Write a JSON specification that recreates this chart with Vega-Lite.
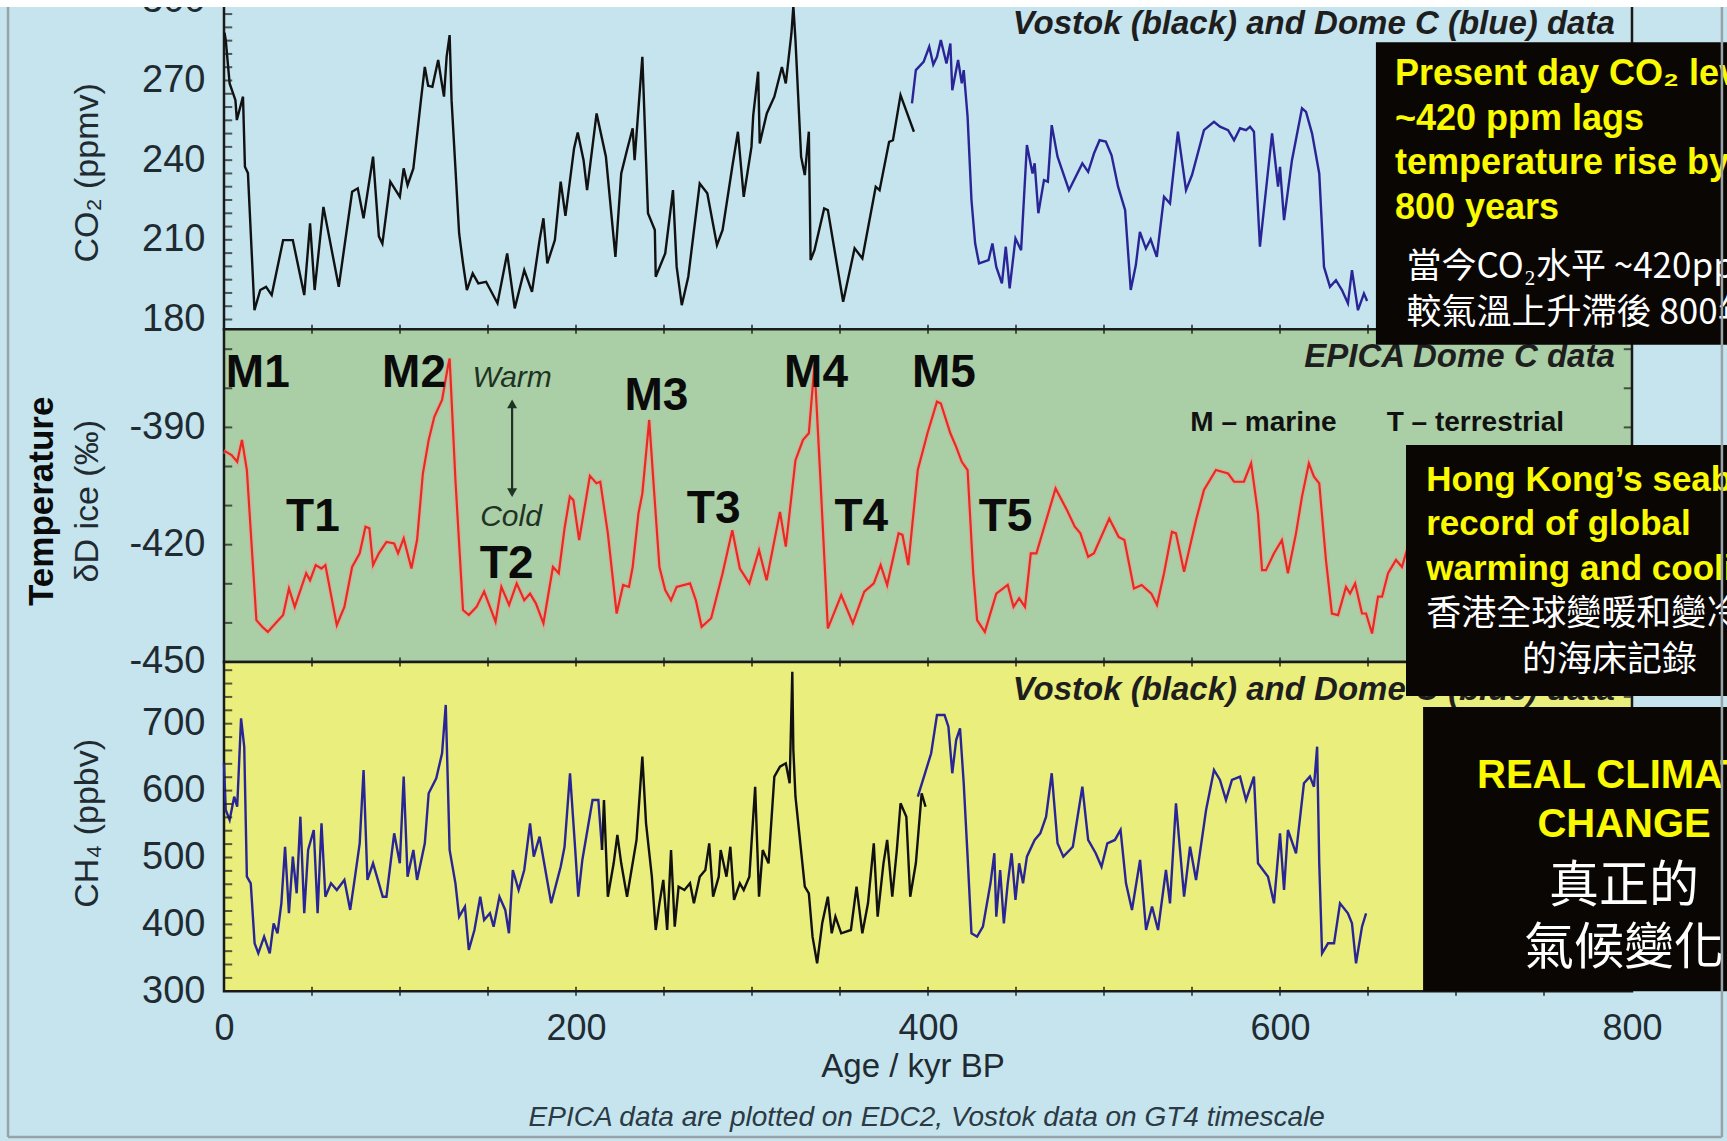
{
"$schema":"https://vega.github.io/schema/vega-lite/v6.json",
"width":1727,"height":1141,"autosize":{"type":"none"},"padding":0,
"background":"#c5e4ee",
"config":{"view":{"stroke":null},"font":"Liberation Sans"},
"resolve":{"scale":{"y":"independent"},"axis":{"x":"independent","y":"independent"}},
"datasets":{
"co2":[
{"core":"Vostok","age":0.3,"co2":288},{"core":"Vostok","age":1.0,"co2":285.2},{"core":"Vostok","age":3.2,"co2":268.9},{"core":"Vostok","age":6.5,"co2":262.6},{"core":"Vostok","age":7.3,"co2":255.1},{"core":"Vostok","age":10.8,"co2":263.9},{"core":"Vostok","age":11.9,"co2":237.5},{"core":"Vostok","age":13.6,"co2":235.1},{"core":"Vostok","age":17.3,"co2":183.5},{"core":"Vostok","age":20.6,"co2":191.1},{"core":"Vostok","age":23.9,"co2":192.3},{"core":"Vostok","age":27.1,"co2":189.2},{"core":"Vostok","age":33.6,"co2":209.9},{"core":"Vostok","age":39.1,"co2":209.9},{"core":"Vostok","age":45.6,"co2":189.2},{"core":"Vostok","age":48.9,"co2":216.2},{"core":"Vostok","age":51.5,"co2":191.1},{"core":"Vostok","age":56.5,"co2":222.4},{"core":"Vostok","age":65.2,"co2":192.3},{"core":"Vostok","age":72.8,"co2":228.1},{"core":"Vostok","age":76.0,"co2":229.4},{"core":"Vostok","age":79.3,"co2":218.1},{"core":"Vostok","age":84.7,"co2":241.3},{"core":"Vostok","age":88.0,"co2":211.3},{"core":"Vostok","age":90.0,"co2":208.6},{"core":"Vostok","age":94.5,"co2":231.9},{"core":"Vostok","age":99.9,"co2":226.2},{"core":"Vostok","age":102.1,"co2":236.9},{"core":"Vostok","age":104.3,"co2":230.6},{"core":"Vostok","age":107.6,"co2":236.9},{"core":"Vostok","age":111.9,"co2":262.6},{"core":"Vostok","age":114.1,"co2":275.1},{"core":"Vostok","age":116.0,"co2":268},{"core":"Vostok","age":118.4,"co2":267.6},{"core":"Vostok","age":121.7,"co2":277.7},{"core":"Vostok","age":123.5,"co2":270},{"core":"Vostok","age":125.0,"co2":263.9},{"core":"Vostok","age":126.5,"co2":279},{"core":"Vostok","age":128.2,"co2":287.1},{"core":"Vostok","age":129.3,"co2":262.6},{"core":"Vostok","age":133.6,"co2":212.4},{"core":"Vostok","age":135.8,"co2":201.1},{"core":"Vostok","age":138.0,"co2":191.1},{"core":"Vostok","age":141.3,"co2":197.4},{"core":"Vostok","age":144.5,"co2":193.6},{"core":"Vostok","age":148.9,"co2":194.2},{"core":"Vostok","age":155.4,"co2":186.1},{"core":"Vostok","age":160.9,"co2":204.9},{"core":"Vostok","age":165.2,"co2":184.2},{"core":"Vostok","age":170.6,"co2":198.6},{"core":"Vostok","age":175.0,"co2":190.4},{"core":"Vostok","age":179.3,"co2":209.9},{"core":"Vostok","age":181.5,"co2":218.1},{"core":"Vostok","age":183.7,"co2":201.1},{"core":"Vostok","age":188.0,"co2":209.9},{"core":"Vostok","age":191.3,"co2":231.9},{"core":"Vostok","age":194.0,"co2":219},{"core":"Vostok","age":198.9,"co2":244.4},{"core":"Vostok","age":201.0,"co2":250.4},{"core":"Vostok","age":204.3,"co2":240},{"core":"Vostok","age":206.3,"co2":228.7},{"core":"Vostok","age":211.7,"co2":257.6},{"core":"Vostok","age":217.0,"co2":241.3},{"core":"Vostok","age":222.4,"co2":203.6},{"core":"Vostok","age":225.7,"co2":235},{"core":"Vostok","age":229.0,"co2":243.8},{"core":"Vostok","age":232.2,"co2":252},{"core":"Vostok","age":233.3,"co2":240},{"core":"Vostok","age":237.7,"co2":278.9},{"core":"Vostok","age":240.9,"co2":220},{"core":"Vostok","age":244.8,"co2":213.7},{"core":"Vostok","age":245.3,"co2":196.1},{"core":"Vostok","age":250.7,"co2":204.9},{"core":"Vostok","age":255.1,"co2":228.7},{"core":"Vostok","age":257.2,"co2":199.8},{"core":"Vostok","age":260.1,"co2":185.4},{"core":"Vostok","age":263.8,"co2":196.1},{"core":"Vostok","age":270.3,"co2":231.2},{"core":"Vostok","age":274.6,"co2":227.5},{"core":"Vostok","age":280.1,"co2":208},{"core":"Vostok","age":283.3,"co2":213.7},{"core":"Vostok","age":288.8,"co2":237.5},{"core":"Vostok","age":292.0,"co2":250.7},{"core":"Vostok","age":295.3,"co2":226.2},{"core":"Vostok","age":299.7,"co2":245},{"core":"Vostok","age":300.7,"co2":256.9},{"core":"Vostok","age":303.5,"co2":273.3},{"core":"Vostok","age":304.4,"co2":246.3},{"core":"Vostok","age":308.4,"co2":257.6},{"core":"Vostok","age":312.7,"co2":263.9},{"core":"Vostok","age":317.0,"co2":275.1},{"core":"Vostok","age":319.2,"co2":268.9},{"core":"Vostok","age":322.4,"co2":287.7},{"core":"Vostok","age":323.5,"co2":298},{"core":"Vostok","age":324.7,"co2":285.2},{"core":"Vostok","age":327.9,"co2":241.3},{"core":"Vostok","age":330.0,"co2":234.4},{"core":"Vostok","age":332.3,"co2":250.7},{"core":"Vostok","age":333.3,"co2":202.4},{"core":"Vostok","age":335.5,"co2":206.1},{"core":"Vostok","age":341.0,"co2":221.8},{"core":"Vostok","age":343.1,"co2":221.2},{"core":"Vostok","age":351.8,"co2":186.7},{"core":"Vostok","age":358.3,"co2":206.8},{"core":"Vostok","age":362.7,"co2":203},{"core":"Vostok","age":370.3,"co2":230},{"core":"Vostok","age":372.5,"co2":228.7},{"core":"Vostok","age":377.9,"co2":246.9},{"core":"Vostok","age":380.1,"co2":247.5},{"core":"Vostok","age":384.4,"co2":264.5},{"core":"Vostok","age":392.0,"co2":250.7},
{"core":"Dome C","age":390.9,"co2":261.4},{"core":"Dome C","age":393.1,"co2":273.9},{"core":"Dome C","age":397.5,"co2":277.0},{"core":"Dome C","age":400.7,"co2":282.7},{"core":"Dome C","age":403.0,"co2":276},{"core":"Dome C","age":405.1,"co2":278.9},{"core":"Dome C","age":407.3,"co2":285.2},{"core":"Dome C","age":410.5,"co2":276.4},{"core":"Dome C","age":412.7,"co2":283.9},{"core":"Dome C","age":413.8,"co2":266.3},{"core":"Dome C","age":417.1,"co2":277.7},{"core":"Dome C","age":419.2,"co2":268.9},{"core":"Dome C","age":420.3,"co2":273.9},{"core":"Dome C","age":422.5,"co2":256.3},{"core":"Dome C","age":424.7,"co2":225},{"core":"Dome C","age":426.8,"co2":208.6},{"core":"Dome C","age":429.0,"co2":201.1},{"core":"Dome C","age":434.4,"co2":202.4},{"core":"Dome C","age":436.6,"co2":208.6},{"core":"Dome C","age":438.8,"co2":199.8},{"core":"Dome C","age":442.0,"co2":193.6},{"core":"Dome C","age":444.2,"co2":207.4},{"core":"Dome C","age":446.4,"co2":191.7},{"core":"Dome C","age":449.7,"co2":210.5},{"core":"Dome C","age":452.9,"co2":206.1},{"core":"Dome C","age":456.2,"co2":245.7},{"core":"Dome C","age":459.4,"co2":235},{"core":"Dome C","age":460.6,"co2":238.8},{"core":"Dome C","age":462.7,"co2":220},{"core":"Dome C","age":465.9,"co2":232.5},{"core":"Dome C","age":468.1,"co2":231.9},{"core":"Dome C","age":470.3,"co2":253.2},{"core":"Dome C","age":473.6,"co2":241.3},{"core":"Dome C","age":480.1,"co2":228.7},{"core":"Dome C","age":487.7,"co2":238.8},{"core":"Dome C","age":491.0,"co2":235.6},{"core":"Dome C","age":494.3,"co2":242.5},{"core":"Dome C","age":497.5,"co2":247.5},{"core":"Dome C","age":501.0,"co2":247.0},{"core":"Dome C","age":504.3,"co2":241.8},{"core":"Dome C","age":508.0,"co2":230},{"core":"Dome C","age":512.0,"co2":221.2},{"core":"Dome C","age":515.2,"co2":191.1},{"core":"Dome C","age":518.1,"co2":200.5},{"core":"Dome C","age":520.4,"co2":213},{"core":"Dome C","age":523.8,"co2":206.7},{"core":"Dome C","age":526.5,"co2":210.2},{"core":"Dome C","age":530.0,"co2":203.6},{"core":"Dome C","age":534.1,"co2":226.2},{"core":"Dome C","age":537.5,"co2":223.7},{"core":"Dome C","age":542.0,"co2":250.7},{"core":"Dome C","age":546.6,"co2":228.7},{"core":"Dome C","age":550.0,"co2":234.4},{"core":"Dome C","age":556.8,"co2":251.3},{"core":"Dome C","age":562.5,"co2":254.4},{"core":"Dome C","age":565.9,"co2":252.6},{"core":"Dome C","age":570.5,"co2":251.3},{"core":"Dome C","age":573.9,"co2":247.5},{"core":"Dome C","age":577.3,"co2":252},{"core":"Dome C","age":580.7,"co2":251.3},{"core":"Dome C","age":583.0,"co2":252.6},{"core":"Dome C","age":585.2,"co2":250.7},{"core":"Dome C","age":588.6,"co2":207.4},{"core":"Dome C","age":595.5,"co2":250.1},{"core":"Dome C","age":598.9,"co2":230},{"core":"Dome C","age":600.0,"co2":237.5},{"core":"Dome C","age":602.3,"co2":217.4},{"core":"Dome C","age":606.8,"co2":240},{"core":"Dome C","age":612.5,"co2":259.5},{"core":"Dome C","age":614.8,"co2":258.2},{"core":"Dome C","age":618.2,"co2":250.1},{"core":"Dome C","age":622.3,"co2":235},{"core":"Dome C","age":625.0,"co2":199.8},{"core":"Dome C","age":628.4,"co2":192.3},{"core":"Dome C","age":631.8,"co2":194.8},{"core":"Dome C","age":635.2,"co2":191.1},{"core":"Dome C","age":638.6,"co2":186.1},{"core":"Dome C","age":640.9,"co2":198.6},{"core":"Dome C","age":644.3,"co2":183.5},{"core":"Dome C","age":647.7,"co2":189.8},{"core":"Dome C","age":649.5,"co2":187}
],
"dd":[
{"age":0.0,"dD":-396},{"age":1.0,"dD":-396.2},{"age":4.3,"dD":-397.1},{"age":7.5,"dD":-398.8},{"age":10.2,"dD":-393.2},{"age":13.0,"dD":-400.9},{"age":18.4,"dD":-439.3},{"age":21.7,"dD":-441},{"age":24.9,"dD":-442.3},{"age":29.3,"dD":-440.1},{"age":33.6,"dD":-438},{"age":36.9,"dD":-431.2},{"age":40.2,"dD":-435.9},{"age":46.7,"dD":-427.3},{"age":48.9,"dD":-429.1},{"age":52.1,"dD":-425.2},{"age":55.4,"dD":-426.1},{"age":57.6,"dD":-425.2},{"age":64.1,"dD":-440.6},{"age":68.4,"dD":-435.9},{"age":72.8,"dD":-425.7},{"age":77.1,"dD":-422.2},{"age":80.4,"dD":-415.4},{"age":82.6,"dD":-415.8},{"age":84.7,"dD":-425.2},{"age":88.0,"dD":-422.2},{"age":92.3,"dD":-419.3},{"age":96.7,"dD":-419.7},{"age":98.9,"dD":-422.2},{"age":102.1,"dD":-418.4},{"age":106.5,"dD":-426.1},{"age":109.7,"dD":-418.8},{"age":113.0,"dD":-401.8},{"age":116.3,"dD":-393.2},{"age":119.5,"dD":-387.3},{"age":123.9,"dD":-383},{"age":127.2,"dD":-374.5},{"age":128.2,"dD":-372.4},{"age":131.5,"dD":-403.5},{"age":135.8,"dD":-436.7},{"age":139.1,"dD":-438},{"age":143.5,"dD":-435.9},{"age":147.8,"dD":-432},{"age":151.1,"dD":-435.9},{"age":154.3,"dD":-439.7},{"age":157.6,"dD":-430.8},{"age":162.0,"dD":-435.4},{"age":166.3,"dD":-429.9},{"age":170.6,"dD":-434.2},{"age":173.9,"dD":-432.5},{"age":177.2,"dD":-435},{"age":181.5,"dD":-440.1},{"age":186.9,"dD":-425.7},{"age":190.2,"dD":-427.3},{"age":193.5,"dD":-415.8},{"age":196.5,"dD":-407.7},{"age":198.5,"dD":-408.6},{"age":201.8,"dD":-418.8},{"age":207.9,"dD":-402.4},{"age":211.6,"dD":-404.3},{"age":213.8,"dD":-403.9},{"age":218.1,"dD":-417.1},{"age":223.1,"dD":-437.6},{"age":226.8,"dD":-430.3},{"age":230.1,"dD":-430.8},{"age":232.2,"dD":-425.7},{"age":235.5,"dD":-412},{"age":237.7,"dD":-406.9},{"age":241.6,"dD":-388.1},{"age":244.2,"dD":-405.2},{"age":247.4,"dD":-425.7},{"age":250.7,"dD":-431.6},{"age":254.0,"dD":-434.2},{"age":257.2,"dD":-430.8},{"age":264.8,"dD":-429.9},{"age":268.1,"dD":-434.2},{"age":271.4,"dD":-441},{"age":276.8,"dD":-438.8},{"age":283.3,"dD":-427.3},{"age":288.8,"dD":-416.3},{"age":293.1,"dD":-426.1},{"age":298.5,"dD":-429.9},{"age":304.0,"dD":-421.4},{"age":308.3,"dD":-429.1},{"age":315.9,"dD":-411.6},{"age":319.2,"dD":-420.5},{"age":324.7,"dD":-398.4},{"age":329.0,"dD":-393.2},{"age":332.3,"dD":-391.5},{"age":335.5,"dD":-374},{"age":338.8,"dD":-402.6},{"age":343.1,"dD":-441.4},{"age":350.7,"dD":-432.9},{"age":357.3,"dD":-440.1},{"age":363.8,"dD":-432},{"age":369.2,"dD":-429.9},{"age":373.1,"dD":-425.2},{"age":376.8,"dD":-430.3},{"age":383.3,"dD":-417.1},{"age":385.5,"dD":-417.5},{"age":388.8,"dD":-425.2},{"age":394.2,"dD":-400.9},{"age":399.7,"dD":-391.5},{"age":405.1,"dD":-383.4},{"age":407.3,"dD":-383.9},{"age":412.7,"dD":-391.5},{"age":416.0,"dD":-395},{"age":419.2,"dD":-398.8},{"age":422.5,"dD":-400.9},{"age":425.7,"dD":-427.3},{"age":427.9,"dD":-439.3},{"age":432.3,"dD":-442.3},{"age":438.8,"dD":-432.5},{"age":445.3,"dD":-430.3},{"age":448.6,"dD":-435.9},{"age":451.8,"dD":-433.7},{"age":455.1,"dD":-435.9},{"age":458.4,"dD":-422.2},{"age":461.6,"dD":-422.2},{"age":472.5,"dD":-405.6},{"age":479.0,"dD":-411.2},{"age":483.4,"dD":-415.4},{"age":486.6,"dD":-417.1},{"age":491.0,"dD":-423.1},{"age":494.3,"dD":-422.2},{"age":503.0,"dD":-413.3},{"age":508.3,"dD":-418},{"age":511.6,"dD":-418.8},{"age":517.0,"dD":-431.2},{"age":521.4,"dD":-430.3},{"age":526.9,"dD":-432.5},{"age":530.1,"dD":-435.4},{"age":534.1,"dD":-427.3},{"age":538.6,"dD":-416.7},{"age":540.9,"dD":-417.1},{"age":545.5,"dD":-426.9},{"age":552.3,"dD":-413.7},{"age":556.8,"dD":-406},{"age":563.6,"dD":-400.9},{"age":570.5,"dD":-401.8},{"age":573.9,"dD":-403.9},{"age":579.5,"dD":-403.9},{"age":583.6,"dD":-399.2},{"age":587.5,"dD":-412},{"age":589.8,"dD":-426.5},{"age":592.0,"dD":-426.5},{"age":596.6,"dD":-422.2},{"age":601.1,"dD":-418.8},{"age":604.5,"dD":-427.3},{"age":609.1,"dD":-417.1},{"age":612.5,"dD":-407.7},{"age":616.4,"dD":-399.2},{"age":619.3,"dD":-402.6},{"age":622.3,"dD":-404.3},{"age":626.1,"dD":-423.9},{"age":629.5,"dD":-437.6},{"age":633.0,"dD":-438},{"age":637.5,"dD":-430.8},{"age":639.8,"dD":-432.5},{"age":642.7,"dD":-429.9},{"age":646.6,"dD":-437.6},{"age":648.9,"dD":-437.6},{"age":652.3,"dD":-442.7},{"age":655.7,"dD":-433.3},{"age":658.0,"dD":-433.3},{"age":661.4,"dD":-427.3},{"age":665.9,"dD":-423.9},{"age":669.3,"dD":-425.7},{"age":672.7,"dD":-420.5},{"age":678.0,"dD":-428}
],
"ch4":[
{"core":"Dome C","seg":"a","age":0.0,"ch4":640.8},{"core":"Dome C","seg":"a","age":1.0,"ch4":571},{"core":"Dome C","seg":"a","age":3.2,"ch4":556.1},{"core":"Dome C","seg":"a","age":5.8,"ch4":590.9},{"core":"Dome C","seg":"a","age":7.5,"ch4":575.9},{"core":"Dome C","seg":"a","age":9.7,"ch4":708},{"core":"Dome C","seg":"a","age":11.5,"ch4":665.6},{"core":"Dome C","seg":"a","age":13.0,"ch4":471.3},{"core":"Dome C","seg":"a","age":15.2,"ch4":461.4},{"core":"Dome C","seg":"a","age":17.4,"ch4":371.7},{"core":"Dome C","seg":"a","age":19.5,"ch4":356.8},{"core":"Dome C","seg":"a","age":22.8,"ch4":381.6},{"core":"Dome C","seg":"a","age":26.0,"ch4":356.8},{"core":"Dome C","seg":"a","age":28.2,"ch4":401.6},{"core":"Dome C","seg":"a","age":30.4,"ch4":386.7},{"core":"Dome C","seg":"a","age":32.6,"ch4":431.5},{"core":"Dome C","seg":"a","age":34.7,"ch4":516.1},{"core":"Dome C","seg":"a","age":36.9,"ch4":416.6},{"core":"Dome C","seg":"a","age":39.1,"ch4":501.2},{"core":"Dome C","seg":"a","age":41.3,"ch4":446.5},{"core":"Dome C","seg":"a","age":43.4,"ch4":561},{"core":"Dome C","seg":"a","age":45.6,"ch4":416.6},{"core":"Dome C","seg":"a","age":47.8,"ch4":511.2},{"core":"Dome C","seg":"a","age":51.0,"ch4":541.1},{"core":"Dome C","seg":"a","age":53.2,"ch4":416.6},{"core":"Dome C","seg":"a","age":55.4,"ch4":551.1},{"core":"Dome C","seg":"a","age":57.6,"ch4":441.4},{"core":"Dome C","seg":"a","age":60.8,"ch4":461.4},{"core":"Dome C","seg":"a","age":64.1,"ch4":451.4},{"core":"Dome C","seg":"a","age":68.4,"ch4":466.4},{"core":"Dome C","seg":"a","age":71.7,"ch4":421.6},{"core":"Dome C","seg":"a","age":73.9,"ch4":461.4},{"core":"Dome C","seg":"a","age":77.1,"ch4":521.2},{"core":"Dome C","seg":"a","age":79.3,"ch4":630.8},{"core":"Dome C","seg":"a","age":81.5,"ch4":466.4},{"core":"Dome C","seg":"a","age":84.7,"ch4":491.3},{"core":"Dome C","seg":"a","age":90.2,"ch4":441.4},{"core":"Dome C","seg":"a","age":92.3,"ch4":441.4},{"core":"Dome C","seg":"a","age":96.7,"ch4":536.2},{"core":"Dome C","seg":"a","age":99.9,"ch4":491.3},{"core":"Dome C","seg":"a","age":102.1,"ch4":620.9},{"core":"Dome C","seg":"a","age":104.3,"ch4":471.3},{"core":"Dome C","seg":"a","age":107.6,"ch4":511.2},{"core":"Dome C","seg":"a","age":109.7,"ch4":466.4},{"core":"Dome C","seg":"a","age":114.1,"ch4":521.2},{"core":"Dome C","seg":"a","age":116.3,"ch4":596},{"core":"Dome C","seg":"a","age":120.6,"ch4":618.4},{"core":"Dome C","seg":"a","age":123.9,"ch4":655.8},{"core":"Dome C","seg":"a","age":126.0,"ch4":728},{"core":"Dome C","seg":"a","age":128.2,"ch4":511.2},{"core":"Dome C","seg":"a","age":131.5,"ch4":461.4},{"core":"Dome C","seg":"a","age":133.6,"ch4":411.5},{"core":"Dome C","seg":"a","age":136.9,"ch4":426.5},{"core":"Dome C","seg":"a","age":139.1,"ch4":361.7},{"core":"Dome C","seg":"a","age":142.3,"ch4":391.6},{"core":"Dome C","seg":"a","age":145.6,"ch4":441.4},{"core":"Dome C","seg":"a","age":147.8,"ch4":406.6},{"core":"Dome C","seg":"a","age":151.1,"ch4":416.6},{"core":"Dome C","seg":"a","age":153.2,"ch4":396.6},{"core":"Dome C","seg":"a","age":156.5,"ch4":441.4},{"core":"Dome C","seg":"a","age":159.8,"ch4":421.6},{"core":"Dome C","seg":"a","age":161.9,"ch4":386.7},{"core":"Dome C","seg":"a","age":164.1,"ch4":481.3},{"core":"Dome C","seg":"a","age":167.4,"ch4":451.4},{"core":"Dome C","seg":"a","age":170.6,"ch4":481.3},{"core":"Dome C","seg":"a","age":173.9,"ch4":551.1},{"core":"Dome C","seg":"a","age":176.0,"ch4":501.2},{"core":"Dome C","seg":"a","age":179.3,"ch4":531.1},{"core":"Dome C","seg":"a","age":185.9,"ch4":431.5},{"core":"Dome C","seg":"a","age":191.3,"ch4":486.2},{"core":"Dome C","seg":"a","age":193.5,"ch4":516.1},{"core":"Dome C","seg":"a","age":196.6,"ch4":625.9},{"core":"Dome C","seg":"a","age":199.2,"ch4":526},{"core":"Dome C","seg":"a","age":201.3,"ch4":441.4},{"core":"Dome C","seg":"a","age":203.6,"ch4":496.3},{"core":"Dome C","seg":"a","age":209.4,"ch4":586},{"core":"Dome C","seg":"a","age":212.7,"ch4":586},{"core":"Dome C","seg":"a","age":214.8,"ch4":511.2},
{"core":"Vostok","seg":"b","age":214.8,"ch4":511.2},{"core":"Vostok","seg":"b","age":215.9,"ch4":586},{"core":"Vostok","seg":"b","age":218.1,"ch4":441.4},{"core":"Vostok","seg":"b","age":221.4,"ch4":491.3},{"core":"Vostok","seg":"b","age":223.5,"ch4":533.6},{"core":"Vostok","seg":"b","age":225.7,"ch4":491.3},{"core":"Vostok","seg":"b","age":229.0,"ch4":441.4},{"core":"Vostok","seg":"b","age":234.4,"ch4":526.2},{"core":"Vostok","seg":"b","age":237.7,"ch4":650.8},{"core":"Vostok","seg":"b","age":239.8,"ch4":551.1},{"core":"Vostok","seg":"b","age":243.1,"ch4":471.3},{"core":"Vostok","seg":"b","age":245.3,"ch4":391.6},{"core":"Vostok","seg":"b","age":247.4,"ch4":431.5},{"core":"Vostok","seg":"b","age":249.6,"ch4":466.4},{"core":"Vostok","seg":"b","age":251.8,"ch4":391.6},{"core":"Vostok","seg":"b","age":254.0,"ch4":511.2},{"core":"Vostok","seg":"b","age":256.1,"ch4":396.6},{"core":"Vostok","seg":"b","age":258.3,"ch4":456.4},{"core":"Vostok","seg":"b","age":261.6,"ch4":451.4},{"core":"Vostok","seg":"b","age":264.8,"ch4":461.4},{"core":"Vostok","seg":"b","age":267.0,"ch4":431.5},{"core":"Vostok","seg":"b","age":270.3,"ch4":471.3},{"core":"Vostok","seg":"b","age":273.5,"ch4":481.3},{"core":"Vostok","seg":"b","age":275.7,"ch4":521.2},{"core":"Vostok","seg":"b","age":277.9,"ch4":441.4},{"core":"Vostok","seg":"b","age":281.1,"ch4":471.3},{"core":"Vostok","seg":"b","age":282.2,"ch4":511.2},{"core":"Vostok","seg":"b","age":285.5,"ch4":471.3},{"core":"Vostok","seg":"b","age":287.7,"ch4":516.1},{"core":"Vostok","seg":"b","age":289.8,"ch4":436.5},{"core":"Vostok","seg":"b","age":293.1,"ch4":461.4},{"core":"Vostok","seg":"b","age":295.3,"ch4":451.4},{"core":"Vostok","seg":"b","age":298.5,"ch4":471.3},{"core":"Vostok","seg":"b","age":301.8,"ch4":605.8},{"core":"Vostok","seg":"b","age":304.0,"ch4":441.4},{"core":"Vostok","seg":"b","age":306.1,"ch4":511.2},{"core":"Vostok","seg":"b","age":309.4,"ch4":491.3},{"core":"Vostok","seg":"b","age":312.7,"ch4":620.9},{"core":"Vostok","seg":"b","age":315.9,"ch4":635.8},{"core":"Vostok","seg":"b","age":319.2,"ch4":640.8},{"core":"Vostok","seg":"b","age":321.4,"ch4":610.9},{"core":"Vostok","seg":"b","age":322.9,"ch4":777.7},{"core":"Vostok","seg":"b","age":323.5,"ch4":660.7},{"core":"Vostok","seg":"b","age":324.7,"ch4":590.9},{"core":"Vostok","seg":"b","age":330.0,"ch4":456.4},{"core":"Vostok","seg":"b","age":332.3,"ch4":446.5},{"core":"Vostok","seg":"b","age":334.4,"ch4":381.6},{"core":"Vostok","seg":"b","age":337.0,"ch4":341.9},{"core":"Vostok","seg":"b","age":339.9,"ch4":401.6},{"core":"Vostok","seg":"b","age":343.1,"ch4":441.4},{"core":"Vostok","seg":"b","age":345.3,"ch4":386.7},{"core":"Vostok","seg":"b","age":347.4,"ch4":411.5},{"core":"Vostok","seg":"b","age":350.7,"ch4":386.7},{"core":"Vostok","seg":"b","age":356.2,"ch4":391.6},{"core":"Vostok","seg":"b","age":359.4,"ch4":456.4},{"core":"Vostok","seg":"b","age":362.7,"ch4":386.7},{"core":"Vostok","seg":"b","age":365.9,"ch4":431.5},{"core":"Vostok","seg":"b","age":369.2,"ch4":521.2},{"core":"Vostok","seg":"b","age":371.4,"ch4":411.5},{"core":"Vostok","seg":"b","age":374.7,"ch4":491.3},{"core":"Vostok","seg":"b","age":376.8,"ch4":526.2},{"core":"Vostok","seg":"b","age":379.7,"ch4":441.4},{"core":"Vostok","seg":"b","age":382.3,"ch4":511.2},{"core":"Vostok","seg":"b","age":384.4,"ch4":581},{"core":"Vostok","seg":"b","age":387.7,"ch4":561},{"core":"Vostok","seg":"b","age":389.9,"ch4":441.4},{"core":"Vostok","seg":"b","age":393.1,"ch4":491.3},{"core":"Vostok","seg":"b","age":396.4,"ch4":596},{"core":"Vostok","seg":"b","age":398.6,"ch4":575.9},
{"core":"Dome C","seg":"c","age":394.2,"ch4":590.9},{"core":"Dome C","seg":"c","age":398.6,"ch4":628.3},{"core":"Dome C","seg":"c","age":401.8,"ch4":655.8},{"core":"Dome C","seg":"c","age":405.1,"ch4":713},{"core":"Dome C","seg":"c","age":409.4,"ch4":713},{"core":"Dome C","seg":"c","age":411.6,"ch4":695.5},{"core":"Dome C","seg":"c","age":413.8,"ch4":625.9},{"core":"Dome C","seg":"c","age":416.0,"ch4":675.6},{"core":"Dome C","seg":"c","age":418.2,"ch4":693.1},{"core":"Dome C","seg":"c","age":420.3,"ch4":610.9},{"core":"Dome C","seg":"c","age":422.5,"ch4":501.2},{"core":"Dome C","seg":"c","age":424.7,"ch4":386.7},{"core":"Dome C","seg":"c","age":427.9,"ch4":381.6},{"core":"Dome C","seg":"c","age":431.2,"ch4":396.6},{"core":"Dome C","seg":"c","age":435.5,"ch4":461.4},{"core":"Dome C","seg":"c","age":437.7,"ch4":506.3},{"core":"Dome C","seg":"c","age":438.8,"ch4":411.5},{"core":"Dome C","seg":"c","age":441.0,"ch4":481.3},{"core":"Dome C","seg":"c","age":443.1,"ch4":401.6},{"core":"Dome C","seg":"c","age":445.3,"ch4":461.4},{"core":"Dome C","seg":"c","age":447.5,"ch4":506.3},{"core":"Dome C","seg":"c","age":449.7,"ch4":436.5},{"core":"Dome C","seg":"c","age":451.8,"ch4":491.3},{"core":"Dome C","seg":"c","age":454.0,"ch4":461.4},{"core":"Dome C","seg":"c","age":456.2,"ch4":501.2},{"core":"Dome C","seg":"c","age":460.6,"ch4":526.2},{"core":"Dome C","seg":"c","age":463.8,"ch4":536.2},{"core":"Dome C","seg":"c","age":467.1,"ch4":561},{"core":"Dome C","seg":"c","age":470.3,"ch4":625.9},{"core":"Dome C","seg":"c","age":473.6,"ch4":521.2},{"core":"Dome C","seg":"c","age":476.9,"ch4":501.2},{"core":"Dome C","seg":"c","age":482.3,"ch4":516.1},{"core":"Dome C","seg":"c","age":487.7,"ch4":605.8},{"core":"Dome C","seg":"c","age":491.0,"ch4":526.2},{"core":"Dome C","seg":"c","age":495.3,"ch4":506.3},{"core":"Dome C","seg":"c","age":498.6,"ch4":486.2},{"core":"Dome C","seg":"c","age":501.9,"ch4":521.2},{"core":"Dome C","seg":"c","age":506.2,"ch4":526.2},{"core":"Dome C","seg":"c","age":509.4,"ch4":541.1},{"core":"Dome C","seg":"c","age":512.5,"ch4":461.4},{"core":"Dome C","seg":"c","age":515.9,"ch4":421.6},{"core":"Dome C","seg":"c","age":520.5,"ch4":496.3},{"core":"Dome C","seg":"c","age":523.9,"ch4":391.6},{"core":"Dome C","seg":"c","age":527.3,"ch4":426.5},{"core":"Dome C","seg":"c","age":530.7,"ch4":391.6},{"core":"Dome C","seg":"c","age":535.2,"ch4":481.3},{"core":"Dome C","seg":"c","age":537.5,"ch4":431.5},{"core":"Dome C","seg":"c","age":540.9,"ch4":581},{"core":"Dome C","seg":"c","age":545.5,"ch4":441.4},{"core":"Dome C","seg":"c","age":548.9,"ch4":516.1},{"core":"Dome C","seg":"c","age":552.3,"ch4":466.4},{"core":"Dome C","seg":"c","age":558.0,"ch4":571},{"core":"Dome C","seg":"c","age":562.5,"ch4":630.8},{"core":"Dome C","seg":"c","age":565.9,"ch4":615.9},{"core":"Dome C","seg":"c","age":569.3,"ch4":586},{"core":"Dome C","seg":"c","age":572.7,"ch4":615.9},{"core":"Dome C","seg":"c","age":577.3,"ch4":620.9},{"core":"Dome C","seg":"c","age":580.7,"ch4":586},{"core":"Dome C","seg":"c","age":585.2,"ch4":620.9},{"core":"Dome C","seg":"c","age":587.5,"ch4":491.3},{"core":"Dome C","seg":"c","age":593.2,"ch4":471.3},{"core":"Dome C","seg":"c","age":596.6,"ch4":431.5},{"core":"Dome C","seg":"c","age":600.0,"ch4":536.2},{"core":"Dome C","seg":"c","age":602.3,"ch4":451.4},{"core":"Dome C","seg":"c","age":604.5,"ch4":541.1},{"core":"Dome C","seg":"c","age":609.1,"ch4":506.3},{"core":"Dome C","seg":"c","age":613.6,"ch4":610.9},{"core":"Dome C","seg":"c","age":617.0,"ch4":620.9},{"core":"Dome C","seg":"c","age":619.3,"ch4":605.8},{"core":"Dome C","seg":"c","age":621.1,"ch4":665.6},{"core":"Dome C","seg":"c","age":622.3,"ch4":491.3},{"core":"Dome C","seg":"c","age":623.9,"ch4":356.8},{"core":"Dome C","seg":"c","age":627.3,"ch4":371.7},{"core":"Dome C","seg":"c","age":630.7,"ch4":371.7},{"core":"Dome C","seg":"c","age":634.1,"ch4":431.5},{"core":"Dome C","seg":"c","age":638.6,"ch4":416.6},{"core":"Dome C","seg":"c","age":640.9,"ch4":401.6},{"core":"Dome C","seg":"c","age":643.2,"ch4":341.9},{"core":"Dome C","seg":"c","age":646.6,"ch4":396.6},{"core":"Dome C","seg":"c","age":648.9,"ch4":416.6}
],
"xt":[{"age":50},{"age":100},{"age":150},{"age":200},{"age":250},{"age":300},{"age":350},{"age":400},{"age":450},{"age":500},{"age":550},{"age":600},{"age":650},{"age":700},{"age":750}],
"co2t":[{"v":180},{"v":185},{"v":190},{"v":195},{"v":200},{"v":205},{"v":210},{"v":215},{"v":220},{"v":225},{"v":230},{"v":235},{"v":240},{"v":245},{"v":250},{"v":255},{"v":260},{"v":265},{"v":270},{"v":275},{"v":280},{"v":285},{"v":290},{"v":295},{"v":300}],
"tt":[{"v":-440},{"v":-430},{"v":-420},{"v":-410},{"v":-400},{"v":-390},{"v":-380},{"v":-370}],
"ch4t":[{"v":320},{"v":340},{"v":360},{"v":380},{"v":400},{"v":420},{"v":440},{"v":460},{"v":480},{"v":500},{"v":520},{"v":540},{"v":560},{"v":580},{"v":600},{"v":620},{"v":640},{"v":660},{"v":680},{"v":700},{"v":720},{"v":740},{"v":760},{"v":780}]
},
"layer":[
{"data":{"values":[{}]},"mark":{"type":"rect","fillOpacity":0,"stroke":"#1a1a1a","strokeWidth":2.5},
 "encoding":{"x":{"datum":0,"type":"quantitative","scale":{"domain":[-127.27,853.98],"nice":false,"zero":false},"axis":null},"x2":{"datum":800},
  "y":{"datum":176.27,"type":"quantitative","scale":{"domain":[-129.3,300.3],"nice":false,"zero":false},"axis":{"orient":"left","offset":-224,"values":[180,210,240,270,300],"domain":false,"ticks":false,"tickSize":0,"grid":false,"title":null,"labelFontSize":38,"labelColor":"#1f2b31","labelPadding":19,"labelFlush":false,"labelOverlap":false,"labelExpr":"'' + datum.value"}},"y2":{"datum":330}}},
{"data":{"values":[{}]},"mark":{"type":"rect","fill":"#aacea5","stroke":"#1a1a1a","strokeWidth":2.5},
 "encoding":{"x":{"datum":0,"type":"quantitative","scale":{"domain":[-127.27,853.98],"nice":false,"zero":false},"axis":null},"x2":{"datum":800},
  "y":{"datum":-450,"type":"quantitative","scale":{"domain":[-572.5,-280.7],"nice":false,"zero":false},"axis":{"orient":"left","offset":-224,"values":[-450,-420,-390],"domain":false,"ticks":false,"tickSize":0,"grid":false,"title":null,"labelFontSize":38,"labelColor":"#1f2b31","labelPadding":19,"labelFlush":false,"labelOverlap":false,"labelExpr":"'' + datum.value"}},"y2":{"datum":-364.9}}},
{"data":{"values":[{}]},"mark":{"type":"rect","fill":"#e9ee7d","stroke":"#1a1a1a","strokeWidth":2.5},
 "encoding":{"x":{"datum":0,"type":"quantitative","scale":{"domain":[-127.27,853.98],"nice":false,"zero":false},"axis":{"orient":"bottom","offset":-149.7,"values":[0,200,400,600,800],"domain":false,"ticks":false,"tickSize":0,"grid":false,"title":null,"labelFontSize":36,"labelColor":"#1f2b31","labelPadding":20,"labelFlush":false,"labelOverlap":false,"labelExpr":"'' + datum.value"}},"x2":{"datum":800},
  "y":{"datum":300,"type":"quantitative","scale":{"domain":[76.2,1781.8],"nice":false,"zero":false},"axis":{"orient":"left","offset":-224,"values":[300,400,500,600,700],"domain":false,"ticks":false,"tickSize":0,"grid":false,"title":null,"labelFontSize":38,"labelColor":"#1f2b31","labelPadding":19,"labelFlush":false,"labelOverlap":false,"labelExpr":"'' + datum.value"}},"y2":{"datum":792.4}}},
{"data":{"name":"co2"},"mark":{"type":"line","strokeWidth":2.4},
 "encoding":{"x":{"field":"age","type":"quantitative","scale":{"domain":[-127.27,853.98],"nice":false,"zero":false},"axis":null},
  "y":{"field":"co2","type":"quantitative","scale":{"domain":[-129.3,300.3],"nice":false,"zero":false},"axis":null},
  "color":{"field":"core","type":"nominal","scale":{"domain":["Vostok","Dome C"],"range":["#111111","#2a2596"]},"legend":null}}},
{"data":{"name":"dd"},"mark":{"type":"line","strokeWidth":5,"color":"#f29a92","opacity":0.45},
 "encoding":{"x":{"field":"age","type":"quantitative","scale":{"domain":[-127.27,853.98],"nice":false,"zero":false},"axis":null},
  "y":{"field":"dD","type":"quantitative","scale":{"domain":[-572.5,-280.7],"nice":false,"zero":false},"axis":null}}},
{"data":{"name":"dd"},"mark":{"type":"line","strokeWidth":2.2,"color":"#ea2a22"},
 "encoding":{"x":{"field":"age","type":"quantitative","scale":{"domain":[-127.27,853.98],"nice":false,"zero":false},"axis":null},
  "y":{"field":"dD","type":"quantitative","scale":{"domain":[-572.5,-280.7],"nice":false,"zero":false},"axis":null}}},
{"data":{"name":"ch4"},"mark":{"type":"line","strokeWidth":2.4},
 "encoding":{"x":{"field":"age","type":"quantitative","scale":{"domain":[-127.27,853.98],"nice":false,"zero":false},"axis":null},
  "y":{"field":"ch4","type":"quantitative","scale":{"domain":[76.2,1781.8],"nice":false,"zero":false},"axis":null},
  "color":{"field":"core","type":"nominal","scale":{"domain":["Vostok","Dome C"],"range":["#111111","#2a2596"]},"legend":null},
  "detail":{"field":"seg"}}},
{"data":{"name":"xt"},"mark":{"type":"tick","orient":"vertical","size":9,"thickness":2,"color":"#1a1a1a"},
 "encoding":{"x":{"field":"age","type":"quantitative","scale":{"domain":[-127.27,853.98],"nice":false,"zero":false},"axis":null},
  "y":{"datum":-364.9,"type":"quantitative","scale":{"domain":[-572.5,-280.7],"nice":false,"zero":false},"axis":null}}},
{"data":{"name":"xt"},"mark":{"type":"tick","orient":"vertical","size":9,"thickness":2,"color":"#1a1a1a"},
 "encoding":{"x":{"field":"age","type":"quantitative","scale":{"domain":[-127.27,853.98],"nice":false,"zero":false},"axis":null},
  "y":{"datum":-450,"type":"quantitative","scale":{"domain":[-572.5,-280.7],"nice":false,"zero":false},"axis":null}}},
{"data":{"name":"xt"},"mark":{"type":"tick","orient":"vertical","size":9,"thickness":2,"color":"#1a1a1a"},
 "encoding":{"x":{"field":"age","type":"quantitative","scale":{"domain":[-127.27,853.98],"nice":false,"zero":false},"axis":null},
  "y":{"datum":300,"type":"quantitative","scale":{"domain":[76.2,1781.8],"nice":false,"zero":false},"axis":null}}},
{"data":{"name":"co2t"},"mark":{"type":"tick","orient":"horizontal","size":8,"thickness":2,"color":"#1a1a1a"},
 "encoding":{"x":{"datum":2.4,"type":"quantitative","scale":{"domain":[-127.27,853.98],"nice":false,"zero":false},"axis":null},
  "y":{"field":"v","type":"quantitative","scale":{"domain":[-129.3,300.3],"nice":false,"zero":false},"axis":null}}},
{"data":{"name":"tt"},"mark":{"type":"tick","orient":"horizontal","size":8,"thickness":2,"color":"#1a1a1a"},
 "encoding":{"x":{"datum":2.4,"type":"quantitative","scale":{"domain":[-127.27,853.98],"nice":false,"zero":false},"axis":null},
  "y":{"field":"v","type":"quantitative","scale":{"domain":[-572.5,-280.7],"nice":false,"zero":false},"axis":null}}},
{"data":{"name":"tt"},"mark":{"type":"tick","orient":"horizontal","size":8,"thickness":2,"color":"#1a1a1a"},
 "encoding":{"x":{"datum":797.6,"type":"quantitative","scale":{"domain":[-127.27,853.98],"nice":false,"zero":false},"axis":null},
  "y":{"field":"v","type":"quantitative","scale":{"domain":[-572.5,-280.7],"nice":false,"zero":false},"axis":null}}},
{"data":{"name":"ch4t"},"mark":{"type":"tick","orient":"horizontal","size":8,"thickness":2,"color":"#1a1a1a"},
 "encoding":{"x":{"datum":2.4,"type":"quantitative","scale":{"domain":[-127.27,853.98],"nice":false,"zero":false},"axis":null},
  "y":{"field":"v","type":"quantitative","scale":{"domain":[76.2,1781.8],"nice":false,"zero":false},"axis":null}}},
{"data":{"name":"ch4t"},"mark":{"type":"tick","orient":"horizontal","size":8,"thickness":2,"color":"#1a1a1a"},
 "encoding":{"x":{"datum":797.6,"type":"quantitative","scale":{"domain":[-127.27,853.98],"nice":false,"zero":false},"axis":null},
  "y":{"field":"v","type":"quantitative","scale":{"domain":[76.2,1781.8],"nice":false,"zero":false},"axis":null}}},
{"data":{"values":[{"t":"Vostok (black) and Dome C (blue) data","age":790.2,"co2":291.1}]},"mark":{"type":"text","align":"right","baseline":"middle","fontSize":33,"fontWeight":"bold","fontStyle":"italic","color":"#1e1e1e"},
 "encoding":{"x":{"field":"age","type":"quantitative","scale":{"domain":[-127.27,853.98],"nice":false,"zero":false},"axis":null},
  "y":{"field":"co2","type":"quantitative","scale":{"domain":[-129.3,300.3],"nice":false,"zero":false},"axis":null},"text":{"field":"t"}}},
{"data":{"values":[{"t":"EPICA Dome C data","age":790.2,"dD":-372.0}]},"mark":{"type":"text","align":"right","baseline":"middle","fontSize":33,"fontWeight":"bold","fontStyle":"italic","color":"#1e1e1e"},
 "encoding":{"x":{"field":"age","type":"quantitative","scale":{"domain":[-127.27,853.98],"nice":false,"zero":false},"axis":null},
  "y":{"field":"dD","type":"quantitative","scale":{"domain":[-572.5,-280.7],"nice":false,"zero":false},"axis":null},"text":{"field":"t"}}},
{"data":{"values":[{"t":"Vostok (black) and Dome C (blue) data","age":790.2,"ch4":751.1}]},"mark":{"type":"text","align":"right","baseline":"middle","fontSize":33,"fontWeight":"bold","fontStyle":"italic","color":"#1e1e1e"},
 "encoding":{"x":{"field":"age","type":"quantitative","scale":{"domain":[-127.27,853.98],"nice":false,"zero":false},"axis":null},
  "y":{"field":"ch4","type":"quantitative","scale":{"domain":[76.2,1781.8],"nice":false,"zero":false},"axis":null},"text":{"field":"t"}}},
{"data":{"values":[{"t":"M1","age":19.2,"dD":-376.2},{"t":"M2","age":108.0,"dD":-376.2},{"t":"M3","age":245.7,"dD":-382.1},{"t":"M4","age":336.4,"dD":-376.2},{"t":"M5","age":409.0,"dD":-376.2},{"t":"T1","age":50.5,"dD":-412.8},{"t":"T2","age":160.6,"dD":-424.9},{"t":"T3","age":278.2,"dD":-410.8},{"t":"T4","age":362.1,"dD":-412.8},{"t":"T5","age":444.1,"dD":-412.8}]},
 "mark":{"type":"text","align":"center","baseline":"middle","fontSize":46,"fontWeight":"bold","color":"#0b0b0b"},
 "encoding":{"x":{"field":"age","type":"quantitative","scale":{"domain":[-127.27,853.98],"nice":false,"zero":false},"axis":null},
  "y":{"field":"dD","type":"quantitative","scale":{"domain":[-572.5,-280.7],"nice":false,"zero":false},"axis":null},"text":{"field":"t"}}},
{"data":{"values":[{"t":"Warm","age":163.7,"dD":-377.3},{"t":"Cold","age":163.1,"dD":-412.8}]},
 "mark":{"type":"text","align":"center","baseline":"middle","fontSize":30,"fontStyle":"italic","color":"#1f3324"},
 "encoding":{"x":{"field":"age","type":"quantitative","scale":{"domain":[-127.27,853.98],"nice":false,"zero":false},"axis":null},
  "y":{"field":"dD","type":"quantitative","scale":{"domain":[-572.5,-280.7],"nice":false,"zero":false},"axis":null},"text":{"field":"t"}}},
{"data":{"values":[{}]},"mark":{"type":"rule","strokeWidth":2.2,"color":"#1f3324"},
 "encoding":{"x":{"datum":163.7,"type":"quantitative","scale":{"domain":[-127.27,853.98],"nice":false,"zero":false},"axis":null},
  "y":{"datum":-384.2,"type":"quantitative","scale":{"domain":[-572.5,-280.7],"nice":false,"zero":false},"axis":null},"y2":{"datum":-406.5}}},
{"data":{"values":[{"d":"up","age":163.7,"dD":-384.0},{"d":"down","age":163.7,"dD":-406.7}]},"mark":{"type":"point","filled":true,"size":100,"opacity":1,"color":"#1f3324"},
 "encoding":{"x":{"field":"age","type":"quantitative","scale":{"domain":[-127.27,853.98],"nice":false,"zero":false},"axis":null},
  "y":{"field":"dD","type":"quantitative","scale":{"domain":[-572.5,-280.7],"nice":false,"zero":false},"axis":null},
  "shape":{"field":"d","type":"nominal","scale":{"domain":["up","down"],"range":["triangle-up","triangle-down"]},"legend":null}}},
{"data":{"values":[{"t":"M – marine","age":590.6,"dD":-388.9},{"t":"T – terrestrial","age":711.0,"dD":-388.9}]},
 "mark":{"type":"text","align":"center","baseline":"middle","fontSize":28,"fontWeight":"bold","color":"#111111"},
 "encoding":{"x":{"field":"age","type":"quantitative","scale":{"domain":[-127.27,853.98],"nice":false,"zero":false},"axis":null},
  "y":{"field":"dD","type":"quantitative","scale":{"domain":[-572.5,-280.7],"nice":false,"zero":false},"axis":null},"text":{"field":"t"}}},
{"data":{"values":[{"t":"CO₂ (ppmv)","age":-77.3,"co2":235.2}]},"mark":{"type":"text","align":"center","baseline":"middle","angle":270,"fontSize":34,"color":"#1f2b31"},
 "encoding":{"x":{"field":"age","type":"quantitative","scale":{"domain":[-127.27,853.98],"nice":false,"zero":false},"axis":null},
  "y":{"field":"co2","type":"quantitative","scale":{"domain":[-129.3,300.3],"nice":false,"zero":false},"axis":null},"text":{"field":"t"}}},
{"data":{"values":[{"t":"δD ice (‰)","age":-77.3,"dD":-408.9}]},"mark":{"type":"text","align":"center","baseline":"middle","angle":270,"fontSize":34,"color":"#1f2b31"},
 "encoding":{"x":{"field":"age","type":"quantitative","scale":{"domain":[-127.27,853.98],"nice":false,"zero":false},"axis":null},
  "y":{"field":"dD","type":"quantitative","scale":{"domain":[-572.5,-280.7],"nice":false,"zero":false},"axis":null},"text":{"field":"t"}}},
{"data":{"values":[{"t":"Temperature","age":-103.4,"dD":-408.9}]},"mark":{"type":"text","align":"center","baseline":"middle","angle":270,"fontSize":35,"fontWeight":"bold","color":"#0b0b0b"},
 "encoding":{"x":{"field":"age","type":"quantitative","scale":{"domain":[-127.27,853.98],"nice":false,"zero":false},"axis":null},
  "y":{"field":"dD","type":"quantitative","scale":{"domain":[-572.5,-280.7],"nice":false,"zero":false},"axis":null},"text":{"field":"t"}}},
{"data":{"values":[{"t":"CH₄ (ppbv)","age":-77.3,"ch4":551}]},"mark":{"type":"text","align":"center","baseline":"middle","angle":270,"fontSize":34,"color":"#1f2b31"},
 "encoding":{"x":{"field":"age","type":"quantitative","scale":{"domain":[-127.27,853.98],"nice":false,"zero":false},"axis":null},
  "y":{"field":"ch4","type":"quantitative","scale":{"domain":[76.2,1781.8],"nice":false,"zero":false},"axis":null},"text":{"field":"t"}}},
{"data":{"values":[{"t":"Age / kyr BP","age":391.5,"ch4":187.5}]},"mark":{"type":"text","align":"center","baseline":"middle","fontSize":33,"color":"#1f2b31"},
 "encoding":{"x":{"field":"age","type":"quantitative","scale":{"domain":[-127.27,853.98],"nice":false,"zero":false},"axis":null},
  "y":{"field":"ch4","type":"quantitative","scale":{"domain":[76.2,1781.8],"nice":false,"zero":false},"axis":null},"text":{"field":"t"}}},
{"data":{"values":[{"t":"EPICA data are plotted on EDC2, Vostok data on GT4 timescale","age":399.3,"ch4":110.6}]},"mark":{"type":"text","align":"center","baseline":"middle","fontSize":28,"fontStyle":"italic","color":"#2b3a44"},
 "encoding":{"x":{"field":"age","type":"quantitative","scale":{"domain":[-127.27,853.98],"nice":false,"zero":false},"axis":null},
  "y":{"field":"ch4","type":"quantitative","scale":{"domain":[76.2,1781.8],"nice":false,"zero":false},"axis":null},"text":{"field":"t"}}},
{"data":{"values":[{}]},"mark":{"type":"rect","color":"#0a0604"},
 "encoding":{"x":{"datum":654.5,"type":"quantitative","scale":{"domain":[-127.27,853.98],"nice":false,"zero":false},"axis":null},"x2":{"datum":880},
  "y":{"datum":170.5,"type":"quantitative","scale":{"domain":[-129.3,300.3],"nice":false,"zero":false},"axis":null},"y2":{"datum":284.4}}},
{"data":{"values":[{"t":"Present day CO₂ levels","age":665.3,"co2":272.5},{"t":"~420 ppm lags","age":665.3,"co2":255.5},{"t":"temperature rise by","age":665.3,"co2":238.9},{"t":"800 years","age":665.3,"co2":221.9}]},
 "mark":{"type":"text","align":"left","baseline":"middle","fontSize":36,"fontWeight":"bold","color":"#fafa00"},
 "encoding":{"x":{"field":"age","type":"quantitative","scale":{"domain":[-127.27,853.98],"nice":false,"zero":false},"axis":null},
  "y":{"field":"co2","type":"quantitative","scale":{"domain":[-129.3,300.3],"nice":false,"zero":false},"axis":null},"text":{"field":"t"}}},
{"data":{"values":[{"t":"當今CO₂水平 ~420ppm","age":671.9,"co2":199.9},{"t":"較氣溫上升滯後 800年","age":671.9,"co2":182.5}]},
 "mark":{"type":"text","align":"left","baseline":"middle","fontSize":35,"font":"Noto Sans CJK TC","color":"#ffffff"},
 "encoding":{"x":{"field":"age","type":"quantitative","scale":{"domain":[-127.27,853.98],"nice":false,"zero":false},"axis":null},
  "y":{"field":"co2","type":"quantitative","scale":{"domain":[-129.3,300.3],"nice":false,"zero":false},"axis":null},"text":{"field":"t"}}},
{"data":{"values":[{}]},"mark":{"type":"rect","color":"#0a0604"},
 "encoding":{"x":{"datum":671.6,"type":"quantitative","scale":{"domain":[-127.27,853.98],"nice":false,"zero":false},"axis":null},"x2":{"datum":880},
  "y":{"datum":-458.7,"type":"quantitative","scale":{"domain":[-572.5,-280.7],"nice":false,"zero":false},"axis":null},"y2":{"datum":-394.5}}},
{"data":{"values":[{"t":"Hong Kong’s seabed","age":683.1,"dD":-403.5},{"t":"record of global","age":683.1,"dD":-414.8},{"t":"warming and cooling","age":683.1,"dD":-426.1}]},
 "mark":{"type":"text","align":"left","baseline":"middle","fontSize":35,"fontWeight":"bold","color":"#fafa00"},
 "encoding":{"x":{"field":"age","type":"quantitative","scale":{"domain":[-127.27,853.98],"nice":false,"zero":false},"axis":null},
  "y":{"field":"dD","type":"quantitative","scale":{"domain":[-572.5,-280.7],"nice":false,"zero":false},"axis":null},"text":{"field":"t"}}},
{"data":{"values":[{"t":"香港全球變暖和變冷","age":683.1,"dD":-437.6},{"t":"的海床記錄","age":737.5,"dD":-449.4}]},
 "mark":{"type":"text","align":"left","baseline":"middle","fontSize":35,"font":"Noto Sans CJK TC","color":"#ffffff"},
 "encoding":{"x":{"field":"age","type":"quantitative","scale":{"domain":[-127.27,853.98],"nice":false,"zero":false},"axis":null},
  "y":{"field":"dD","type":"quantitative","scale":{"domain":[-572.5,-280.7],"nice":false,"zero":false},"axis":null},"text":{"field":"t"}}},
{"data":{"values":[{}]},"mark":{"type":"rect","color":"#0a0604"},
 "encoding":{"x":{"datum":681.3,"type":"quantitative","scale":{"domain":[-127.27,853.98],"nice":false,"zero":false},"axis":null},"x2":{"datum":880},
  "y":{"datum":300,"type":"quantitative","scale":{"domain":[76.2,1781.8],"nice":false,"zero":false},"axis":null},"y2":{"datum":724.8}}},
{"data":{"values":[{"t":"REAL CLIMATE","age":795.5,"ch4":622.5},{"t":"CHANGE","age":795.5,"ch4":548.5}]},
 "mark":{"type":"text","align":"center","baseline":"middle","fontSize":40,"fontWeight":"bold","color":"#fafa00"},
 "encoding":{"x":{"field":"age","type":"quantitative","scale":{"domain":[-127.27,853.98],"nice":false,"zero":false},"axis":null},
  "y":{"field":"ch4","type":"quantitative","scale":{"domain":[76.2,1781.8],"nice":false,"zero":false},"axis":null},"text":{"field":"t"}}},
{"data":{"values":[{"t":"真正的","age":795.5,"ch4":455.5},{"t":"氣候變化","age":795.5,"ch4":363.3}]},
 "mark":{"type":"text","align":"center","baseline":"middle","fontSize":50,"font":"Noto Sans CJK TC","color":"#ffffff"},
 "encoding":{"x":{"field":"age","type":"quantitative","scale":{"domain":[-127.27,853.98],"nice":false,"zero":false},"axis":null},
  "y":{"field":"ch4","type":"quantitative","scale":{"domain":[76.2,1781.8],"nice":false,"zero":false},"axis":null},"text":{"field":"t"}}},
{"data":{"values":[{}]},"mark":{"type":"rect","color":"#ffffff"},
 "encoding":{"x":{"datum":-200,"type":"quantitative","scale":{"domain":[-127.27,853.98],"nice":false,"zero":false},"axis":null},"x2":{"datum":900},
  "y":{"datum":297.7,"type":"quantitative","scale":{"domain":[-129.3,300.3],"nice":false,"zero":false},"axis":null},"y2":{"datum":340}}},
{"data":{"values":[{}]},"mark":{"type":"rule","strokeWidth":2.5,"color":"#98a3a8"},
 "encoding":{"x":{"datum":-122.7,"type":"quantitative","scale":{"domain":[-127.27,853.98],"nice":false,"zero":false},"axis":null},
  "y":{"datum":-127.8,"type":"quantitative","scale":{"domain":[-129.3,300.3],"nice":false,"zero":false},"axis":null},"y2":{"datum":297.7}}},
{"data":{"values":[{}]},"mark":{"type":"rule","strokeWidth":2.5,"color":"#98a3a8"},
 "encoding":{"x":{"datum":851.1,"type":"quantitative","scale":{"domain":[-127.27,853.98],"nice":false,"zero":false},"axis":null},
  "y":{"datum":-127.8,"type":"quantitative","scale":{"domain":[-129.3,300.3],"nice":false,"zero":false},"axis":null},"y2":{"datum":297.7}}},
{"data":{"values":[{}]},"mark":{"type":"rule","strokeWidth":2.5,"color":"#98a3a8"},
 "encoding":{"x":{"datum":-122.7,"type":"quantitative","scale":{"domain":[-127.27,853.98],"nice":false,"zero":false},"axis":null},"x2":{"datum":851.1},
  "y":{"datum":-127.8,"type":"quantitative","scale":{"domain":[-129.3,300.3],"nice":false,"zero":false},"axis":null}}}
]
}
